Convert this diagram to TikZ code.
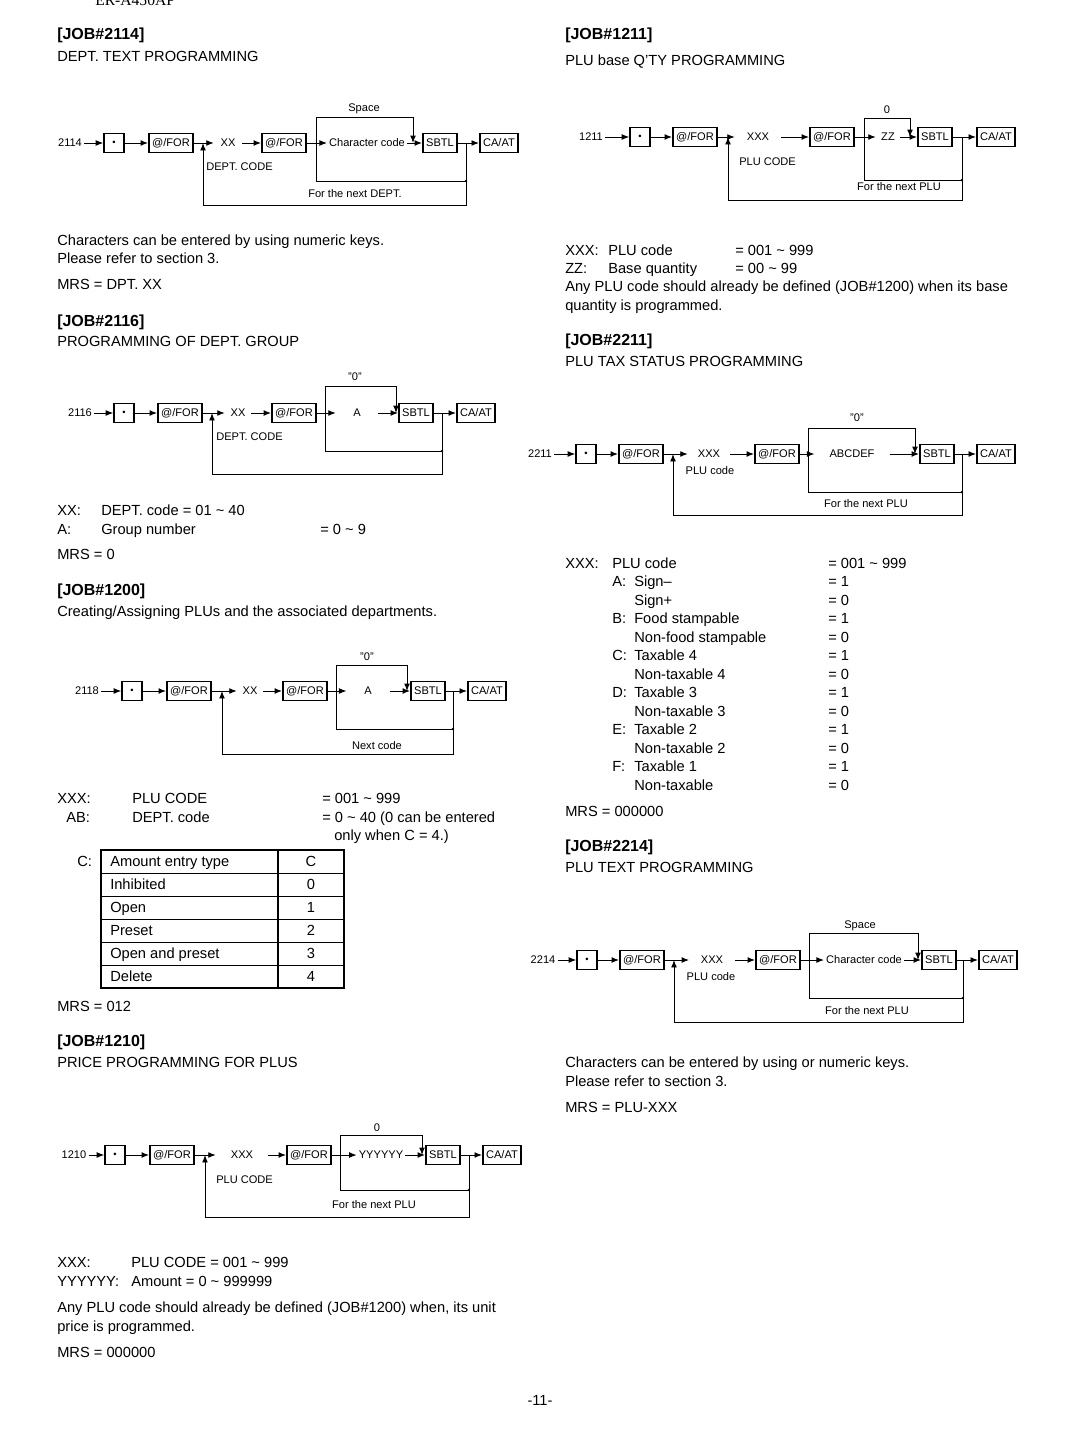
\documentclass[tikz,border=0pt]{standalone}
\usepackage{fontspec}
\setmainfont{Liberation Sans}
\newfontfamily\serifhead{Liberation Serif}
\usepackage{tikz}
\usetikzlibrary{arrows.meta}
\newcommand{\bodyfont}{\fontsize{11}{13.5}\selectfont}
\newcommand{\headfont}{\fontsize{12}{14}\selectfont\bfseries}
\newcommand{\diafont}{\fontsize{8.3}{10}\selectfont}
\newcommand{\til}{\textasciitilde}
% key sequence wiring: prefix, row y, x of junction 1, x of junction 2,
% x where the top loop drops, x of the riser, top y, inner y, outer y
\newcommand{\flowlinks}[9]{%
  \coordinate (#1-j1) at (#3,#2);
  \coordinate (#1-j2) at (#4,#2);
  \coordinate (#1-t1) at (#4,#7);
  \coordinate (#1-t2) at (#5,#7);
  \coordinate (#1-t3) at (#5,#2);
  \coordinate (#1-v) at (#6,#2);
  \coordinate (#1-i1) at (#4,#8);
  \coordinate (#1-i2) at (#6,#8);
  \coordinate (#1-o1) at (#6,#9);
  \coordinate (#1-o2) at (#3,#9);
  \draw[arr] (#1-num) -- (#1-dot);
  \draw[arr] (#1-dot) -- (#1-for1);
  \draw[arr] (#1-for1) -- (#1-val);
  \draw[arr] (#1-val) -- (#1-for2);
  \draw[arr] (#1-for2) -- (#1-mid);
  \draw[arr] (#1-mid) -- (#1-sbtl);
  \draw[arr] (#1-sbtl) -- (#1-caat);
  \draw[arr] (#1-j2) -- (#1-t1) -- (#1-t2) -- (#1-t3);
  \draw[wire] (#1-j2) -- (#1-i1) -- (#1-i2);
  \draw[arr] (#1-v) -- (#1-o1) -- (#1-o2) -- (#1-j1);
  \fill (#1-i2) circle (1.1pt);
}

\begin{document}
\begin{tikzpicture}[x=0.75pt, y=-0.75pt,
  body/.style={font=\bodyfont, inner sep=0pt, anchor=base west},
  head/.style={font=\headfont, inner sep=0pt, anchor=base west},
  lbl/.style={font=\diafont, inner sep=1.5pt},
  key/.style={draw, line width=1.2pt, font=\diafont, inner xsep=2.5pt, inner ysep=0pt, minimum height=14.5pt},
  dotkey/.style={key, minimum width=15pt, font=\fontsize{7}{7}\selectfont},
  wire/.style={line width=0.7pt},
  arr/.style={wire, -{Latex[length=5.6pt,width=4.4pt]}}]
  \useasboundingbox (0,0) rectangle (1080,1453);

  % running header, cut by the page edge
  \node[font=\serifhead\fontsize{11.7}{12}\selectfont, inner sep=0pt, anchor=base west] (model) at (95,5) {ER-A450AP};

  % ---------------- left column ----------------
  % JOB#2114
  \node[head] (h2114) at (57,39) {[JOB\#2114]};
  \node[body] (s2114) at (57,61) {DEPT. TEXT PROGRAMMING};
  \node[lbl] (a-num) at (70,143) {2114};
  \node[dotkey] (a-dot) at (114,143) {\textbullet};
  \node[key] (a-for1) at (171,143) {@/FOR};
  \node[lbl, minimum width=21pt] (a-val) at (228,143) {XX};
  \node[key] (a-for2) at (284,143) {@/FOR};
  \node[lbl] (a-mid) at (367,143) {Character code};
  \node[key] (a-sbtl) at (440,143) {SBTL};
  \node[key] (a-caat) at (499,143) {CA/AT};
  \node[lbl] (a-top) at (364,109) {Space};
  \node[lbl, anchor=west] (a-sub) at (204,167) {DEPT. CODE};
  \node[lbl] (a-next) at (355,194) {For the next DEPT.};
  \flowlinks{a}{143}{203}{316}{413}{466}{117}{181}{205}
  \node[body] (n2114a) at (57,245) {Characters can be entered by using numeric keys.};
  \node[body] (n2114b) at (57,263) {Please refer to section 3.};
  \node[body] (m2114) at (57,289) {MRS = DPT. XX};

  % JOB#2116
  \node[head] (h2116) at (57,326) {[JOB\#2116]};
  \node[body] (s2116) at (57,346) {PROGRAMMING OF DEPT. GROUP};
  \node[lbl] (c-num) at (80,413) {2116};
  \node[dotkey] (c-dot) at (124,413) {\textbullet};
  \node[key] (c-for1) at (180,413) {@/FOR};
  \node[lbl, minimum width=19.5pt] (c-val) at (238,413) {XX};
  \node[key] (c-for2) at (294,413) {@/FOR};
  \node[lbl, minimum width=31.5pt] (c-mid) at (357,413) {A};
  \node[key] (c-sbtl) at (416,413) {SBTL};
  \node[key] (c-caat) at (476,413) {CA/AT};
  \node[lbl] (c-top) at (355,377) {"0"};
  \node[lbl, anchor=west] (c-sub) at (214,437) {DEPT. CODE};
  \flowlinks{c}{413}{212}{325}{396}{442}{386}{451}{474}
  \node[body] (k2116a) at (57,515) {XX:};
  \node[body] (t2116a) at (101,515) {DEPT. code = 01 \til\ 40};
  \node[body] (k2116b) at (57,534) {A:};
  \node[body] (t2116b) at (101,534) {Group number};
  \node[body] (v2116b) at (320,534) {= 0 \til\ 9};
  \node[body] (m2116) at (57,559) {MRS = 0};

  % JOB#1200
  \node[head] (h1200) at (57,595) {[JOB\#1200]};
  \node[body] (s1200) at (57,616) {Creating/Assigning PLUs and the associated departments.};
  \node[lbl] (e-num) at (87,691) {2118};
  \node[dotkey] (e-dot) at (132,691) {\textbullet};
  \node[key] (e-for1) at (189,691) {@/FOR};
  \node[lbl, minimum width=19.5pt] (e-val) at (250,691) {XX};
  \node[key] (e-for2) at (305,691) {@/FOR};
  \node[lbl, minimum width=32pt] (e-mid) at (368,691) {A};
  \node[key] (e-sbtl) at (428,691) {SBTL};
  \node[key] (e-caat) at (487,691) {CA/AT};
  \node[lbl] (e-top) at (367,657) {"0"};
  \node[lbl] (e-next) at (377,746) {Next code};
  \flowlinks{e}{691}{222}{336}{407}{453}{665}{729}{754}
  \node[body] (k1200a) at (57,803) {XXX:};
  \node[body] (t1200a) at (132,803) {PLU CODE};
  \node[body] (v1200a) at (322,803) {= 001 \til\ 999};
  \node[body] (k1200b) at (66,822) {AB:};
  \node[body] (t1200b) at (132,822) {DEPT. code};
  \node[body] (v1200b) at (322,822) {= 0 \til\ 40 (0 can be entered};
  \node[body] (w1200b) at (334,840) {only when C = 4.)};
  \node[body] (k1200c) at (77,866) {C:};
  \draw[line width=1.2pt] (101,850) rectangle (344,988);
  \draw[line width=0.9pt] (278,850) -- (278,988);
  \foreach \r in {873,896,919,942,965}
    \draw[wire] (101,\r) -- (344,\r);
  \foreach \t/\v [count=\i from 0] in {Amount entry type/C, Inhibited/0, Open/1, Preset/2, Open and preset/3, Delete/4} {
    \node[body] (ct\i) at (110,866.5+23*\i) {\t};
    \node[body, anchor=base] (cv\i) at (311,866.5+23*\i) {\v};
  }
  \node[body] (m1200) at (57,1011) {MRS = 012};

  % JOB#1210
  \node[head] (h1210) at (57,1046) {[JOB\#1210]};
  \node[body] (s1210) at (57,1067) {PRICE PROGRAMMING FOR PLUS};
  \node[lbl] (g-num) at (74,1155) {1210};
  \node[dotkey] (g-dot) at (115,1155) {\textbullet};
  \node[key] (g-for1) at (172,1155) {@/FOR};
  \node[lbl, minimum width=39pt] (g-val) at (242,1155) {XXX};
  \node[key] (g-for2) at (309,1155) {@/FOR};
  \node[lbl] (g-mid) at (381,1155) {YYYYYY};
  \node[key] (g-sbtl) at (443,1155) {SBTL};
  \node[key] (g-caat) at (502,1155) {CA/AT};
  \node[lbl] (g-top) at (377,1128) {0};
  \node[lbl, anchor=west] (g-sub) at (214,1180) {PLU CODE};
  \node[lbl] (g-next) at (374,1205) {For the next PLU};
  \flowlinks{g}{1155}{205}{340}{422}{469}{1135}{1190}{1217}
  \node[body] (k1210a) at (57,1267) {XXX:};
  \node[body] (t1210a) at (131,1267) {PLU CODE = 001 \til\ 999};
  \node[body] (k1210b) at (57,1286) {YYYYYY:};
  \node[body] (t1210b) at (131,1286) {Amount = 0 \til\ 999999};
  \node[body] (n1210a) at (57,1312) {Any PLU code should already be defined (JOB\#1200) when, its unit};
  \node[body] (n1210b) at (57,1331) {price is programmed.};
  \node[body] (m1210) at (57,1357) {MRS = 000000};

  % ---------------- right column ----------------
  % JOB#1211
  \node[head] (h1211) at (565,39) {[JOB\#1211]};
  \node[body] (s1211) at (565,65) {PLU base Q'TY PROGRAMMING};
  \node[lbl] (b-num) at (591,137) {1211};
  \node[dotkey] (b-dot) at (640,137) {\textbullet};
  \node[key] (b-for1) at (695,137) {@/FOR};
  \node[lbl, minimum width=34.5pt] (b-val) at (758,137) {XXX};
  \node[key] (b-for2) at (832,137) {@/FOR};
  \node[lbl, minimum width=18pt] (b-mid) at (888,137) {ZZ};
  \node[key] (b-sbtl) at (935,137) {SBTL};
  \node[key] (b-caat) at (996,137) {CA/AT};
  \node[lbl] (b-top) at (887,110) {0};
  \node[lbl, anchor=west] (b-sub) at (737,162) {PLU CODE};
  \node[lbl] (b-next) at (899,187) {For the next PLU};
  \flowlinks{b}{137}{728}{864}{910}{962}{118}{180}{200}
  \node[body] (k1211a) at (565,255) {XXX:};
  \node[body] (t1211a) at (608,255) {PLU code};
  \node[body] (v1211a) at (735,255) {= 001 \til\ 999};
  \node[body] (k1211b) at (565,273) {ZZ:};
  \node[body] (t1211b) at (608,273) {Base quantity};
  \node[body] (v1211b) at (735,273) {= 00 \til\ 99};
  \node[body] (n1211a) at (565,291) {Any PLU code should already be defined (JOB\#1200) when its base};
  \node[body] (n1211b) at (565,310) {quantity is programmed.};

  % JOB#2211
  \node[head] (h2211) at (565,345) {[JOB\#2211]};
  \node[body] (s2211) at (565,366) {PLU TAX STATUS PROGRAMMING};
  \node[lbl] (d-num) at (540,454) {2211};
  \node[dotkey] (d-dot) at (586,454) {\textbullet};
  \node[key] (d-for1) at (641,454) {@/FOR};
  \node[lbl, minimum width=31.5pt] (d-val) at (709,454) {XXX};
  \node[key] (d-for2) at (777,454) {@/FOR};
  \node[lbl, minimum width=56pt] (d-mid) at (852,454) {ABCDEF};
  \node[key] (d-sbtl) at (937,454) {SBTL};
  \node[key] (d-caat) at (996,454) {CA/AT};
  \node[lbl] (d-top) at (857,418) {"0"};
  \node[lbl] (d-sub) at (710,471) {PLU code};
  \node[lbl] (d-next) at (866,504) {For the next PLU};
  \flowlinks{d}{454}{673}{808}{915}{962}{428}{492}{515}
  \node[body] (k2211) at (565,568) {XXX:};
  \node[body] (t2211) at (612,568) {PLU code};
  \node[body] (v2211) at (828,568) {= 001 \til\ 999};
  \foreach \k/\t/\v [count=\i] in {A:/Sign--/1, /Sign+/0, B:/Food stampable/1, /Non-food stampable/0, C:/Taxable 4/1, /Non-taxable 4/0, D:/Taxable 3/1, /Non-taxable 3/0, E:/Taxable 2/1, /Non-taxable 2/0, F:/Taxable 1/1, /Non-taxable/0} {
    \node[body] (sk\i) at (612,568+18.5*\i) {\k};
    \node[body] (st\i) at (634,568+18.5*\i) {\t};
    \node[body] (sv\i) at (828,568+18.5*\i) {= \v};
  }
  \node[body] (m2211) at (565,816) {MRS = 000000};

  % JOB#2214
  \node[head] (h2214) at (565,851) {[JOB\#2214]};
  \node[body] (s2214) at (565,872) {PLU TEXT PROGRAMMING};
  \node[lbl] (f-num) at (543,960) {2214};
  \node[dotkey] (f-dot) at (587,960) {\textbullet};
  \node[key] (f-for1) at (642,960) {@/FOR};
  \node[lbl, minimum width=34pt] (f-val) at (712,960) {XXX};
  \node[key] (f-for2) at (778,960) {@/FOR};
  \node[lbl] (f-mid) at (864,960) {Character code};
  \node[key] (f-sbtl) at (939,960) {SBTL};
  \node[key] (f-caat) at (998,960) {CA/AT};
  \node[lbl] (f-top) at (860,926) {Space};
  \node[lbl] (f-sub) at (711,977) {PLU code};
  \node[lbl] (f-next) at (867,1011) {For the next PLU};
  \flowlinks{f}{960}{674}{809}{918}{963}{933}{998}{1022}
  \node[body] (n2214a) at (565,1067) {Characters can be entered by using or numeric keys.};
  \node[body] (n2214b) at (565,1086) {Please refer to section 3.};
  \node[body] (m2214) at (565,1112) {MRS = PLU-XXX};

  % page number
  \node[body, anchor=base] (page) at (540,1405) {-11-};
\end{tikzpicture}
\end{document}
